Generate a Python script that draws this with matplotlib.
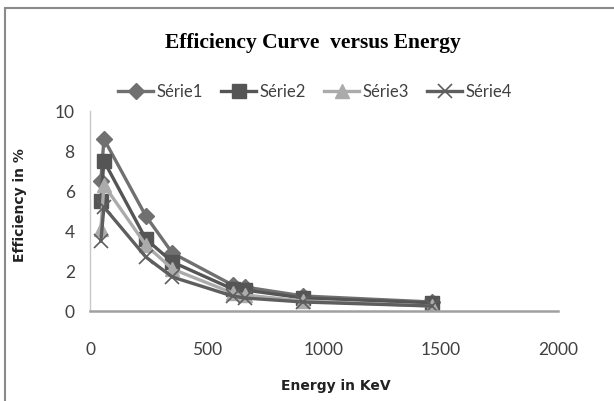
import matplotlib
matplotlib.use("Agg")
import matplotlib.pyplot as plt
from matplotlib.patches import Rectangle

energy = [46.5, 59.5, 238.6, 351.9, 609.3, 661.7, 911.2, 1460.8]
serie1 = [6.5, 8.6, 4.75, 2.9, 1.3, 1.2, 0.75, 0.45]
serie2 = [5.5, 7.5, 3.6, 2.45, 1.1, 1.05, 0.65, 0.4]
serie3 = [4.1, 6.3, 3.3, 2.1, 0.9, 0.8, 0.5, 0.25]
serie4 = [3.5, 5.2, 2.7, 1.7, 0.75, 0.65, 0.45, 0.25]
labels = ["Série1", "Série2", "Série3", "Série4"]
xticks = [0, 500, 1000, 1500, 2000]
yticks = [0, 2, 4, 6, 8, 10]

W, H = 614, 401
fig = plt.figure(figsize=(W / 100, H / 100), dpi=100)
fig.patch.set_facecolor("white")

# chart area border
fig.patches.append(Rectangle((5 / W, -0.1), 1.2, 1 - 8 / H + 0.1,
                             transform=fig.transFigure, fill=False,
                             edgecolor="#8a8a8a", linewidth=1.5))

ax = fig.add_axes([90 / W, (H - 311) / H, 468 / W, 200 / H])
styles = [
    dict(color="#707070", marker="D", ms=8),
    dict(color="#555555", marker="s", ms=10),
    dict(color="#ababab", marker="^", ms=10),
    dict(color="#5e5e5e", marker="x", ms=10, mew=1.2),
]
series = [serie1, serie2, serie3, serie4]
for ys, lab, st in zip(series, labels, styles):
    ax.plot(energy, ys, label=lab, lw=2.4, **st)

ax.set_xlim(0, 2000)
ax.set_ylim(0, 10)
ax.set_xticks(xticks)
ax.set_yticks(yticks)
ax.tick_params(length=0, labelsize=12.5, labelcolor="#404040")
ax.tick_params(axis="x", pad=22)
ax.tick_params(axis="y", pad=11)
for t in ax.get_xticklabels() + ax.get_yticklabels():
    t.set_family("Lato")
for s in ["top", "right"]:
    ax.spines[s].set_visible(False)
ax.spines["left"].set_color("#c8c8c8")
ax.spines["left"].set_linewidth(1.0)
ax.spines["bottom"].set_color("#a0a0a0")
ax.spines["bottom"].set_linewidth(1.8)

fig.text(313 / W, 1 - 43 / H, "Efficiency Curve  versus Energy",
         ha="center", va="center", family="Liberation Serif",
         fontweight="bold", fontsize=15.5)
fig.text(20 / W, 1 - 205 / H, "Efficiency in %", rotation=90,
         ha="center", va="center", family="DejaVu Sans", fontweight="bold",
         fontsize=10, color="#222222")
fig.text(336 / W, 1 - 386 / H, "Energy in KeV", ha="center", va="center",
         family="DejaVu Sans", fontweight="bold", fontsize=10, color="#222222")

fig.legend(loc="center", bbox_to_anchor=(315 / W, 1 - 92 / H), ncol=4,
           frameon=False, handlelength=2.1, columnspacing=1.1,
           handletextpad=0.2, prop=dict(family="Lato", size=12),
           labelcolor="#404040")

fig.savefig("out.png", dpi=100)
